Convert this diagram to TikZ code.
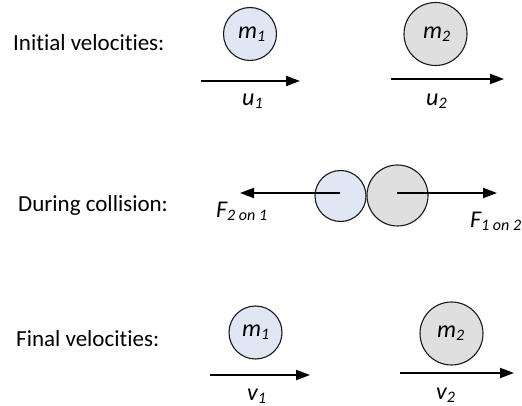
\documentclass[tikz,border=0pt]{standalone}
\usepackage{fontspec}
\setmainfont{Carlito}[Ligatures=NoCommon,RawFeature={-liga}]
\usetikzlibrary{arrows.meta}
\definecolor{ballA}{HTML}{DEE7F3}
\definecolor{ballB}{HTML}{DFDFDF}
\newcommand\vlab[2]{\textit{\fontsize{24}{27}\selectfont #1\raisebox{-3pt}{\fontsize{16}{18}\selectfont #2}}}
\begin{document}
\begin{tikzpicture}[x=1pt,y=-1pt,
  title/.style={anchor=base west,inner sep=0pt,font=\fontsize{23}{27}\selectfont},
  ballone/.style={circle,draw=black!90,line width=1.1pt,fill=ballA,inner sep=0pt},
  balltwo/.style={circle,draw=black!90,line width=1.1pt,fill=ballB,inner sep=0pt},
  vel/.style={line width=2pt,-{Triangle[length=14pt,width=10pt]}},
  lab/.style={anchor=base west,inner sep=0pt}]
\useasboundingbox (0,0) rectangle (522,406);
% titles
\node[title] (t1) at (13,51) {Initial velocities:};
\node[title] (t2) at (18,212) {During collision:};
\node[title] (t3) at (16,346) {Final velocities:};
% initial
\node[ballone,minimum size=53pt] (a1) at (250,34) {};
\node[balltwo,minimum size=63pt] (a2) at (435.5,34) {};
\node[lab] (ma1) at (238,39) {\vlab{m}{1}};
\node[lab] (ma2) at (423,39) {\vlab{m}{2}};
\coordinate (u1s) at (201,81); \coordinate (u1e) at (300,81);
\coordinate (u2s) at (391,79); \coordinate (u2e) at (504,79);
\draw[vel] (u1s) -- (u1e);
\draw[vel] (u2s) -- (u2e);
\node[lab] (lu1) at (242,106) {\vlab{u}{1}};
\node[lab] (lu2) at (426,106) {\vlab{u}{2}};
% collision
\node[ballone,minimum size=51pt] (b1) at (340.5,196) {};
\node[balltwo,minimum size=61pt] (b2) at (397.5,195.5) {};
\coordinate (f1s) at (340,193); \coordinate (f1e) at (240,193);
\coordinate (f2s) at (397,193); \coordinate (f2e) at (497,193);
\draw[vel] (f1s) -- (f1e);
\draw[vel] (f2s) -- (f2e);
\node[lab] (lf1) at (216,218) {\vlab{F}{2 on 1}};
\node[lab] (lf2) at (470,228) {\vlab{F}{1 on 2}};
% final
\node[ballone,minimum size=53pt] (c1) at (255.5,332.5) {};
\node[balltwo,minimum size=63pt] (c2) at (451.5,333.5) {};
\node[lab] (mc1) at (242,336) {\vlab{m}{1}};
\node[lab] (mc2) at (437,337) {\vlab{m}{2}};
\coordinate (v1s) at (210,375); \coordinate (v1e) at (310,375);
\coordinate (v2s) at (400,373); \coordinate (v2e) at (514,373);
\draw[vel] (v1s) -- (v1e);
\draw[vel] (v2s) -- (v2e);
\node[lab] (lv1) at (247,400) {\vlab{v}{1}};
\node[lab] (lv2) at (436,399) {\vlab{v}{2}};
\end{tikzpicture}
\end{document}
